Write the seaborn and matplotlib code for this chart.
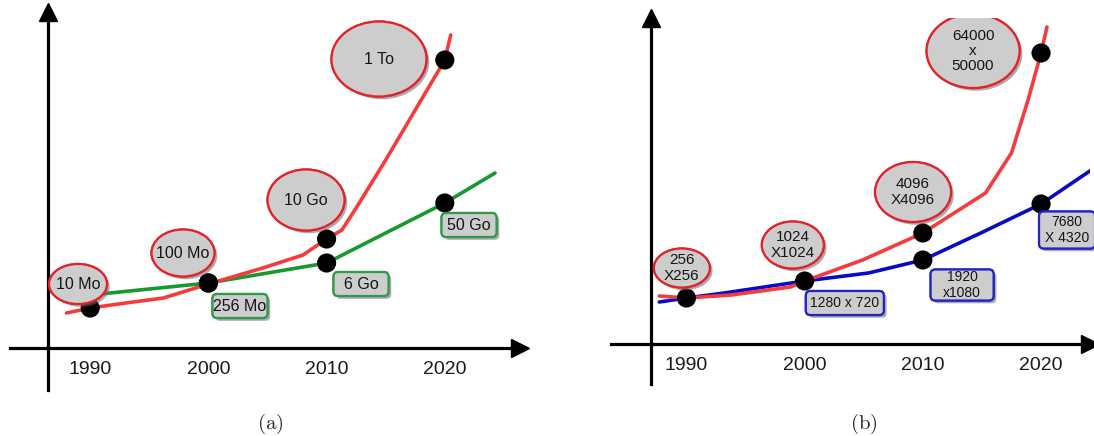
import numpy as np
import pandas as pd
import matplotlib
matplotlib.use("Agg")
import matplotlib.pyplot as plt
import matplotlib.patheffects as pe
from matplotlib.patches import Ellipse, FancyBboxPatch
import seaborn as sns

# Données (x : année, y : hauteur arbitraire au-dessus de l'axe)
annees = [1990, 2000, 2010, 2020]

# (a) capacité : courbe rouge (disques) et courbe verte (mémoire)
a_rouge_x = [1988.0, 1990, 1993, 1996.2, 2000, 2004.6, 2008, 2010, 2011.3, 2012.5, 2015.0, 2018.0, 2020, 2020.5]
a_rouge_y = [35, 40, 45, 50, 64, 80, 93, 109, 118, 140, 188, 248, 288, 313]
a_vert_x = [1990, 2000, 2010, 2020, 2024.25]
a_vert_y = [53, 65, 85, 145, 175]
a_points_rouge = [40, 65, 109, 288]
a_points_vert = [65, 85, 145]
a_bulles = ["10 Mo", "100 Mo", "10 Go", "1 To"]
a_etiquettes = ["256 Mo", "6 Go", "50 Go"]

# (b) résolution : courbe rouge (capteurs) et courbe bleue (écrans)
b_rouge_x = [1987.7, 1990, 1993.8, 1998.8, 2000, 2004.9, 2010, 2015.3, 2017.5, 2018.9, 2020, 2020.5]
b_rouge_y = [48, 46, 49, 57, 63, 84, 111, 151, 191, 244, 291, 317]
b_bleu_x = [1987.7, 1990, 1993.2, 2000, 2005.4, 2010, 2014.9, 2020, 2024.25]
b_bleu_y = [42, 46, 51, 63, 71, 84, 111, 140, 174]
b_points_rouge = [46, 63, 111, 291]
b_points_bleu = [84, 140]
b_bulles = ["256\nX256", "1024\nX1024", "4096\nX4096", "64000\nx\n50000"]
b_etiquettes = ["1280 x 720", "1920\nx1080", "7680\nX 4320"]

# Mise en page des bulles et étiquettes (centre x, centre y, largeur px, hauteur px)
a_pos_bulles = [(1988.97, 64, 58, 40), (1997.85, 95, 63, 47), (2008.26, 148, 77, 61), (2014.43, 289, 95, 75)]
a_pos_etiq = [(2002.67, 42), (2012.91, 64), (2022.05, 123)]
b_pos_bulles = [(1989.61, 76, 56, 39), (1999.0, 99, 62, 47), (2009.17, 152, 76, 60), (2014.25, 293, 93, 74)]
b_pos_etiq = [(2003.4, 41, 78, 24), (2013.32, 59, 63, 31), (2022.2, 114, 56, 37)]

PX_AN = 11.82  # pixels par année
ROUGE = "#f53b3b"
VERT = "#17992f"
BLEU = "#0a0ac4"
GRIS = "#cdcdcd"

sns.set_style("white")
plt.rcParams["font.family"] = ["Liberation Sans", "DejaVu Sans"]
plt.rcParams["mathtext.fontset"] = "cm"

fig = plt.figure(figsize=(10.94, 4.36), dpi=100)
W, H = 1094, 436
ombre = [pe.withSimplePatchShadow(offset=(2, -2), shadow_rgbFace="0.4", alpha=0.55), pe.Normal()]


def repere(ax, x_axe, y0_axe):
    # axes en croix avec flèches
    for s in ["top", "right"]:
        ax.spines[s].set_visible(False)
    ax.spines["left"].set_position(("data", x_axe))
    ax.spines["bottom"].set_position(("data", y0_axe))
    for s in ["left", "bottom"]:
        ax.spines[s].set_linewidth(2.3)
        ax.spines[s].set_color("black")
    ax.plot(1, 0, ">", color="black", ms=13, transform=ax.get_yaxis_transform(), clip_on=False)
    ax.plot(x_axe, 1, "^", color="black", ms=13, transform=ax.get_xaxis_transform(), clip_on=False)
    ax.set_xticks(annees)
    ax.set_xticklabels([str(a) for a in annees])
    ax.set_yticks([])
    ax.tick_params(axis="x", direction="inout", length=11, width=3, pad=4, labelsize=14, colors="black")
    for lab in ax.get_xticklabels():
        lab.set_color("#1a1a1a")
    ax.set_xlabel("")
    ax.set_ylabel("")
    ax.grid(False)


def bulle(ax, texte, pos, taille):
    x, y, w, h = pos
    e = Ellipse((x, y), w / PX_AN, h, facecolor=GRIS, edgecolor="#e3232a", lw=1.6, zorder=5)
    e.set_path_effects(ombre)
    ax.add_patch(e)
    ax.text(x, y, texte, ha="center", va="center", fontsize=taille, color="#151515",
            linespacing=1.1, zorder=6)


def etiquette(ax, texte, pos, couleur, taille):
    x, y, w, h = pos
    b = FancyBboxPatch((x - w / PX_AN / 2, y - h / 2), w / PX_AN, h,
                       boxstyle="round,pad=0,rounding_size=0.4", mutation_aspect=PX_AN,
                       facecolor=GRIS, edgecolor=couleur, lw=1.6, zorder=5, clip_on=False)
    b.set_path_effects(ombre)
    ax.add_patch(b)
    ax.text(x, y, texte, ha="center", va="center", fontsize=taille, color="#151515",
            linespacing=1.1, zorder=6, clip_on=False)


# ---------- panneau (a) ----------
def annee_a(px):
    return 2005 + (px - 267.5) / PX_AN

ax1 = fig.add_axes([10 / W, (H - 390) / H, 510 / W, 378 / H])
ax1.set_xlim(annee_a(10), annee_a(520))
ax1.set_ylim(348 - 390, 348 - 12)
sns.lineplot(x=a_vert_x, y=a_vert_y, sort=False, color=VERT, lw=2.6, ax=ax1, zorder=3)
sns.lineplot(x=a_rouge_x, y=a_rouge_y, sort=False, color=ROUGE, lw=2.6, ax=ax1, zorder=3)
sns.scatterplot(x=annees, y=a_points_rouge, s=190, color="black", edgecolor="none", ax=ax1, zorder=4)
sns.scatterplot(x=annees[1:], y=a_points_vert, s=190, color="black", edgecolor="none", ax=ax1, zorder=4)
repere(ax1, annee_a(48), 0)
for t, p in zip(a_bulles, a_pos_bulles):
    bulle(ax1, t, p, 11.5)
for t, p in zip(a_etiquettes, a_pos_etiq):
    etiquette(ax1, t, (p[0], p[1], 55, 24), "#2f9a4c", 11.5)

# ---------- panneau (b) ----------
def annee_b(px):
    return 2005 + (px - 863.75) / PX_AN

ax2 = fig.add_axes([611 / W, (H - 384) / H, 479 / W, 366 / H])
ax2.set_xlim(annee_b(611), annee_b(1090))
ax2.set_ylim(344 - 384, 344 - 18)
sns.lineplot(x=b_bleu_x, y=b_bleu_y, sort=False, color=BLEU, lw=2.6, ax=ax2, zorder=3)
sns.lineplot(x=b_rouge_x, y=b_rouge_y, sort=False, color=ROUGE, lw=2.6, ax=ax2, zorder=3)
sns.scatterplot(x=annees, y=b_points_rouge, s=190, color="black", edgecolor="none", ax=ax2, zorder=4)
sns.scatterplot(x=annees[2:], y=b_points_bleu, s=190, color="black", edgecolor="none", ax=ax2, zorder=4)
repere(ax2, annee_b(651), 0)
for t, p in zip(b_bulles, b_pos_bulles):
    bulle(ax2, t, p, 11)
for t, p in zip(b_etiquettes, b_pos_etiq):
    etiquette(ax2, t, p, "#2424c0", 10)

fig.text(270 / W, 1 - 424 / H, r"$\mathrm{(a)}$", ha="center", va="center", fontsize=15)
fig.text(864 / W, 1 - 424 / H, r"$\mathrm{(b)}$", ha="center", va="center", fontsize=15)

fig.savefig("out.png", dpi=100)
